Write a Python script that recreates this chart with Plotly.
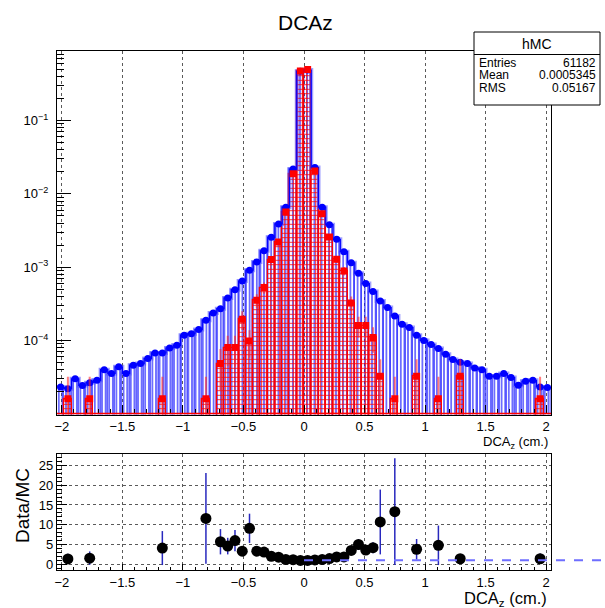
import plotly.graph_objects as go

W, H = 605, 608
FONT = "Liberation Sans, Arial, sans-serif"

# ---------------- data ----------------
bin_width = 0.06
bin_centers = [-2.01, -1.95, -1.89, -1.83, -1.77, -1.71, -1.65, -1.59, -1.53, -1.47,
               -1.41, -1.35, -1.29, -1.23, -1.17, -1.11, -1.05, -0.99, -0.93, -0.87,
               -0.81, -0.75, -0.69, -0.63, -0.57, -0.51, -0.45, -0.39, -0.33, -0.27,
               -0.21, -0.15, -0.09, -0.03, 0.03, 0.09, 0.15, 0.21, 0.27, 0.33,
               0.39, 0.45, 0.51, 0.57, 0.63, 0.69, 0.75, 0.81, 0.87, 0.93,
               0.99, 1.05, 1.11, 1.17, 1.23, 1.29, 1.35, 1.41, 1.47, 1.53,
               1.59, 1.65, 1.71, 1.77, 1.83, 1.89, 1.95, 2.01]

# blue histogram (hMC)
mc_values = [2.32e-5, 2.2e-5, 3.0e-5, 2.43e-5, 2.66e-5, 2.86e-5, 4.0e-5, 3.55e-5, 4.37e-5, 3.55e-5,
             4.6e-5, 4.84e-5, 5.67e-5, 6.76e-5, 6.76e-5, 7.9e-5, 8.6e-5, 1.18e-4, 1.24e-4, 1.41e-4,
             1.89e-4, 2.37e-4, 2.72e-4, 3.8e-4, 4.94e-4, 6.48e-4, 9.08e-4, 1.18e-3, 1.67e-3, 2.56e-3,
             3.9e-3, 6.6e-3, 0.0218, 0.47, 0.49, 0.0229, 6.6e-3, 3.8e-3, 2.4e-3, 1.63e-3,
             1.15e-3, 8.3e-4, 5.97e-4, 4.65e-4, 3.46e-4, 2.81e-4, 2.16e-4, 1.66e-4, 1.5e-4, 1.18e-4,
             1.0e-4, 8.8e-5, 7.76e-5, 6.5e-5, 5.5e-5, 5.05e-5, 4.84e-5, 4.22e-5, 4.0e-5, 3.25e-5,
             3.25e-5, 3.53e-5, 3.12e-5, 2.45e-5, 2.77e-5, 2.86e-5, 2.32e-5, 2.28e-5]

# red histogram
data_values = [0, 1.6e-5, 0, 0, 1.6e-5, 0, 0, 0, 0, 0,
               0, 0, 0, 0, 1.6e-5, 0, 0, 0, 0, 0,
               1.6e-5, 0, 4.84e-5, 8.0e-5, 8.0e-5, 1.95e-4, 9.8e-5, 3.53e-4, 5.27e-4, 1.27e-3,
               2.21e-3, 5.67e-3, 0.0189, 0.475, 0.497, 0.0206, 5.38e-3, 2.58e-3, 1.28e-3, 8.9e-4,
               3.25e-4, 1.6e-4, 1.6e-4, 1.1e-4, 3.25e-5, 0, 1.6e-5, 0, 0, 3.25e-5,
               0, 0, 1.6e-5, 0, 0, 3.25e-5, 0, 0, 0, 0,
               0, 0, 0, 0, 0, 0, 1.6e-5, 0]
data_errors = [0, 1.6e-5, 0, 0, 1.6e-5, 0, 0, 0, 0, 0,
               0, 0, 0, 0, 1.6e-5, 0, 0, 0, 0, 0,
               1.6e-5, 0, 2.8e-5, 3.6e-5, 3.6e-5, 5.6e-5, 4.0e-5, 7.5e-5, 9.2e-5, 1.4e-4,
               1.9e-4, 3.0e-4, 5.5e-4, 2.7e-3, 2.8e-3, 5.7e-4, 2.9e-4, 2.0e-4, 1.4e-4, 1.2e-4,
               7.2e-5, 5.1e-5, 5.1e-5, 4.2e-5, 2.3e-5, 0, 1.6e-5, 0, 0, 2.3e-5,
               0, 0, 1.6e-5, 0, 0, 2.3e-5, 0, 0, 0, 0,
               0, 0, 0, 0, 0, 0, 1.6e-5, 0]

# ratio panel
ratio_x = [-1.95, -1.77, -1.17, -0.81, -0.69, -0.63, -0.57, -0.51, -0.45, -0.39,
           -0.33, -0.27, -0.21, -0.15, -0.09, -0.03, 0.03, 0.09, 0.15, 0.21,
           0.27, 0.33, 0.39, 0.45, 0.51, 0.57, 0.63, 0.75, 0.93, 1.11,
           1.29, 1.95]
ratio_values = [1.34, 1.55, 4.1, 11.6, 5.7, 4.6, 6.0, 3.3, 9.1, 3.3,
                3.1, 2.0, 1.8, 1.2, 1.15, 0.98, 0.97, 1.1, 1.2, 1.45,
                1.85, 1.85, 3.5, 5.0, 3.6, 4.2, 10.7, 13.3, 3.8, 4.8,
                1.4, 1.4]
ratio_errors = [1.3, 1.7, 4.3, 11.5, 3.2, 2.1, 2.7, 0.9, 3.7, 0.7,
                0.55, 0.25, 0.15, 0.08, 0.04, 0.01, 0.01, 0.04, 0.08, 0.12,
                0.22, 0.3, 0.6, 1.4, 1.0, 1.4, 8.2, 13.5, 2.6, 5.0,
                0.9, 1.3]

x_tickvals = [-2, -1.5, -1, -0.5, 0, 0.5, 1, 1.5, 2]
x_ticktext = ["\u22122", "\u22121.5", "\u22121", "\u22120.5", "0", "0.5", "1", "1.5", "2"]
top_y_tickvals = [1e-4, 1e-3, 1e-2, 1e-1]
top_y_ticktext = ["10<sup>\u22124</sup>", "10<sup>\u22123</sup>", "10<sup>\u22122</sup>", "10<sup>\u22121</sup>"]
ratio_y_tickvals = [0, 5, 10, 15, 20, 25]

stats_title = "hMC"
stats_rows = [("Entries", "61182"), ("Mean", "0.0005345"), ("RMS", "0.05167")]
ratio_reference = 1.0

# ---------------- geometry (pixels) ----------------
X_L, X_R = 57, 551
TOP_T, TOP_B = 51, 414.5
BOT_T, BOT_B = 454, 570
X_RANGE = [-2.04, 2.04]
TOP_RANGE = [-5.01, -0.05]
BOT_RANGE = [-1.45, 27.9]


def px(x):
    return x / W


def py(y):
    return 1 - y / H


fig = go.Figure()

# blue histogram with vertical hatch
fig.add_trace(go.Bar(
    x=bin_centers, y=mc_values, width=bin_width, xaxis="x", yaxis="y",
    marker=dict(color="rgb(10,10,255)",
                line=dict(color="rgba(60,60,255,0.55)", width=1.5),
                pattern=dict(shape="|", size=3.6, solidity=0.3, fgcolor="rgb(10,10,255)",
                             bgcolor="rgba(0,0,0,0)", fillmode="replace")),
    hoverinfo="skip"))

# blue step outline
edges = [c - bin_width / 2 for c in bin_centers] + [bin_centers[-1] + bin_width / 2]
step_y = mc_values + [mc_values[-1]]
fig.add_trace(go.Scatter(x=edges, y=step_y, mode="lines", line_shape="hv",
                         line=dict(color="rgba(70,70,255,0.5)", width=4),
                         xaxis="x", yaxis="y", hoverinfo="skip"))
fig.add_trace(go.Scatter(x=edges, y=step_y, mode="lines", line_shape="hv",
                         line=dict(color="rgb(0,0,255)", width=1.2),
                         xaxis="x", yaxis="y", hoverinfo="skip"))

# red histogram with grid hatch
red_plot = [v if v > 0 else None for v in data_values]
fig.add_trace(go.Bar(
    x=bin_centers, y=red_plot, width=bin_width, xaxis="x", yaxis="y",
    marker=dict(color="rgb(255,0,0)",
                line=dict(color="rgb(255,0,0)", width=1.3),
                pattern=dict(shape="+", size=4.5, solidity=0.32, fgcolor="rgb(255,0,0)",
                             bgcolor="rgba(0,0,0,0)", fillmode="replace")),
    hoverinfo="skip"))

# blue markers
fig.add_trace(go.Scatter(x=bin_centers, y=mc_values, mode="markers",
                         marker=dict(symbol="circle", size=7, color="rgb(0,0,255)"),
                         xaxis="x", yaxis="y", hoverinfo="skip"))

# red markers with errors
rx = [c for c, v in zip(bin_centers, data_values) if v > 0]
ry = [v for v in data_values if v > 0]
re = [e for e, v in zip(data_errors, data_values) if v > 0]
fig.add_trace(go.Scatter(x=rx, y=ry, mode="markers",
                         marker=dict(symbol="square", size=7, color="rgb(255,0,0)"),
                         error_y=dict(type="data", array=re, visible=True, width=0,
                                      thickness=2, color="rgba(255,40,40,0.6)"),
                         xaxis="x", yaxis="y", hoverinfo="skip"))

# ratio panel
fig.add_trace(go.Scatter(x=ratio_x, y=ratio_values, mode="markers",
                         marker=dict(symbol="circle", size=11, color="black"),
                         error_y=dict(type="data", array=ratio_errors, visible=True, width=0,
                                      thickness=1.5, color="rgb(40,40,190)"),
                         xaxis="x2", yaxis="y2", hoverinfo="skip"))

axis_common = dict(showline=True, linecolor="black", linewidth=1.2, mirror=True,
                   ticks="inside", tickcolor="black", zeroline=False,
                   tickfont=dict(family=FONT, size=13, color="black"))

fig.update_layout(
    template="none",
    width=W, height=H, margin=dict(l=0, r=0, t=0, b=0, pad=0),
    paper_bgcolor="white", plot_bgcolor="white", showlegend=False,
    barmode="overlay", bargap=0,
    font=dict(family=FONT, color="black"),
    xaxis=dict(domain=[px(X_L), px(X_R)], range=X_RANGE, anchor="y",
               tickvals=x_tickvals, ticktext=x_ticktext, ticklen=9,
               minor=dict(ticks="inside", ticklen=5, dtick=0.1, tick0=0, tickcolor="black", showgrid=False),
               showgrid=True, gridcolor="rgb(90,90,90)", griddash="dot", gridwidth=1,
               automargin=False, **axis_common),
    yaxis=dict(domain=[py(TOP_B), py(TOP_T)], type="log", range=TOP_RANGE, anchor="x",
               tickvals=top_y_tickvals, ticktext=top_y_ticktext, ticklen=14,
               minor=dict(ticks="inside", ticklen=7, dtick="D1", tickcolor="black", showgrid=False),
               showgrid=False, automargin=False, ticklabelstandoff=5, **axis_common),
    xaxis2=dict(domain=[px(X_L), px(X_R)], range=X_RANGE, anchor="y2",
                tickvals=x_tickvals, ticktext=x_ticktext, ticklen=6,
                minor=dict(ticks="inside", ticklen=3, dtick=0.1, tick0=0, tickcolor="black", showgrid=False),
                showgrid=True, gridcolor="rgb(90,90,90)", griddash="dot", gridwidth=1,
                automargin=False, **axis_common),
    yaxis2=dict(domain=[py(BOT_B), py(BOT_T)], range=BOT_RANGE, anchor="x2",
                tickvals=ratio_y_tickvals, ticklen=10,
                minor=dict(ticks="inside", ticklen=5, dtick=1, tick0=0, tickcolor="black", showgrid=False),
                showgrid=True, gridcolor="rgb(90,90,90)", griddash="dot", gridwidth=1,
                automargin=False, **axis_common),
)

annotations = [
    dict(text="DCAz", x=px(305), y=py(22), xref="paper", yref="paper", showarrow=False,
         xanchor="center", yanchor="middle", font=dict(family=FONT, size=21, color="black")),
    dict(text="DCA<sub>z</sub> (cm.)", x=px(549), y=py(442), xref="paper", yref="paper",
         showarrow=False, xanchor="right", yanchor="middle", borderpad=0,
         font=dict(family=FONT, size=13, color="black")),
    dict(text="DCA<sub>z</sub> (cm.)", x=px(549), y=py(599), xref="paper", yref="paper",
         showarrow=False, xanchor="right", yanchor="middle",
         font=dict(family=FONT, size=16.5, color="black")),
    dict(text="Data/MC", x=px(22), y=py(506), xref="paper", yref="paper", showarrow=False,
         textangle=-90, xanchor="center", yanchor="middle",
         font=dict(family=FONT, size=19, color="black")),
]

# stats box
SB_L, SB_R, SB_T, SB_M, SB_B = 474, 600, 32, 54.5, 105
shapes = [
    dict(type="rect", xref="paper", yref="paper", x0=px(SB_L), x1=px(SB_R), y0=py(SB_B), y1=py(SB_T),
         line=dict(color="black", width=1), fillcolor="white", layer="above"),
    dict(type="line", xref="paper", yref="paper", x0=px(SB_L), x1=px(SB_R), y0=py(SB_M), y1=py(SB_M),
         line=dict(color="black", width=1), layer="above"),
    # red baseline for empty bins
    dict(type="line", xref="paper", yref="paper", x0=px(X_L), x1=px(X_R), y0=py(TOP_B - 1), y1=py(TOP_B - 1),
         line=dict(color="red", width=1.5), layer="above"),
]
annotations.append(dict(text=stats_title, x=px((SB_L + SB_R) / 2), y=py(43.5), xref="paper", yref="paper",
                        showarrow=False, xanchor="center", yanchor="middle",
                        font=dict(family=FONT, size=14, color="black")))
row_y = [63, 75.5, 88]
for (lab, val), yy in zip(stats_rows, row_y):
    annotations.append(dict(text=lab, x=px(SB_L + 4), y=py(yy), xref="paper", yref="paper",
                            showarrow=False, xanchor="left", yanchor="middle", borderpad=0,
                            font=dict(family=FONT, size=12, color="black")))
    annotations.append(dict(text=val, x=px(SB_R - 3), y=py(yy), xref="paper", yref="paper",
                            showarrow=False, xanchor="right", yanchor="middle", borderpad=0,
                            font=dict(family=FONT, size=12, color="black")))

# reference line at ratio = 1 (extends beyond frame like ROOT TLine)
ref_frac = (ratio_reference - BOT_RANGE[0]) / (BOT_RANGE[1] - BOT_RANGE[0])
ref_y = py(BOT_B) + ref_frac * (py(BOT_T) - py(BOT_B))
x0_frac = (0 - X_RANGE[0]) / (X_RANGE[1] - X_RANGE[0])
ref_x0 = px(X_L) + x0_frac * (px(X_R) - px(X_L))
shapes.append(dict(type="line", xref="paper", yref="paper", x0=ref_x0, x1=1.0, y0=ref_y, y1=ref_y,
                   line=dict(color="rgb(110,110,255)", width=2, dash="dash"), layer="above"))

fig.update_layout(annotations=annotations, shapes=shapes)
fig.write_html("out.html", config={"displayModeBar": False},
               post_script="document.body.style.margin='0px';document.body.style.padding='0px';")
